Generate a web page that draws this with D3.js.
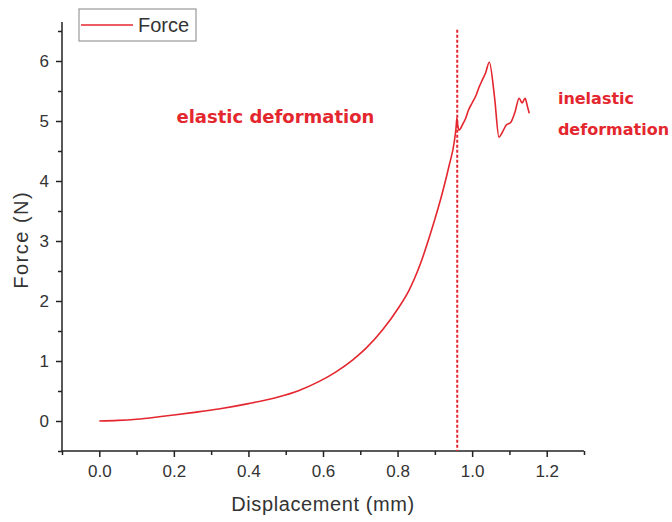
<!DOCTYPE html>
<html>
<head>
<meta charset="utf-8">
<script src="https://cdn.jsdelivr.net/npm/d3@7"></script>
<style>
  body { margin: 0; background: #fff; }
  .axis path, .axis line { stroke: #222; stroke-width: 1.5; }
  .axis text { font-family: "Liberation Sans", Arial, sans-serif; font-size: 17px; fill: #333; }
</style>
</head>
<body>
<div id="chart"></div>
<script>
// displacement (mm) and force (N)
var displacement = [0, 0.05, 0.1, 0.16, 0.2, 0.25, 0.32, 0.4, 0.48, 0.536, 0.59, 0.635, 0.68, 0.715, 0.76, 0.804, 0.83, 0.86, 0.893, 0.92, 0.938, 0.952, 0.957, 0.959, 0.962, 0.965, 0.975, 0.983, 0.99, 1.0, 1.01, 1.019, 1.027, 1.036, 1.046, 1.06, 1.072, 1.08, 1.091, 1.104, 1.115, 1.126, 1.134, 1.142, 1.148, 1.153];
var force = [0, 0.01, 0.03, 0.07, 0.1, 0.14, 0.2, 0.29, 0.4, 0.51, 0.66, 0.82, 1.02, 1.21, 1.52, 1.9, 2.17, 2.6, 3.22, 3.8, 4.25, 4.65, 4.9, 5.05, 4.9, 4.85, 4.95, 5.05, 5.18, 5.3, 5.42, 5.57, 5.68, 5.8, 5.98, 5.4, 4.73, 4.8, 4.93, 4.98, 5.15, 5.38, 5.3, 5.38, 5.25, 5.13];

var xTicks = [0, 0.2, 0.4, 0.6, 0.8, 1.0, 1.2];
var xMinor = [-0.1, 0.1, 0.3, 0.5, 0.7, 0.9, 1.1, 1.3];
var yTicks = [0, 1, 2, 3, 4, 5, 6];
var yMinor = [-0.5, 0.5, 1.5, 2.5, 3.5, 4.5, 5.5, 6.5];
var limit = 0.96;
var seriesName = "Force";

var red = "#e4262f";
var margin = ({top: 22, right: 88, bottom: 71, left: 62});
var width = 672 - margin.left - margin.right;
var height = 522 - margin.top - margin.bottom;

var svg = d3.select("#chart")
    .append("svg")
    .attr("width", 672)
    .attr("height", 522)
    .append("g")
    .attr("transform", "translate(" + margin.left + "," + margin.top + ")");

var xScale = d3.scaleLinear()
    .domain([-0.1, 1.3])
    .range([0, width]);

var yScale = d3.scaleLinear()
    .domain([-0.5, 6.65])
    .range([height, 0]);

// minor ticks first, then the labelled axes on top
svg.append("g")
    .attr("class", "axis")
    .attr("transform", "translate(0," + height + ")")
    .call(d3.axisBottom(xScale).tickValues(xMinor).tickSize(4).tickFormat(""))
    .select(".domain").remove();

svg.append("g")
    .attr("class", "axis")
    .call(d3.axisLeft(yScale).tickValues(yMinor).tickSize(4).tickFormat(""))
    .select(".domain").remove();

var xAxis = svg.append("g")
    .attr("class", "axis x-axis")
    .attr("transform", "translate(0," + height + ")")
    .call(d3.axisBottom(xScale).tickValues(xTicks).tickSize(6).tickSizeOuter(0).tickPadding(8).tickFormat(d3.format(".1f")));

var yAxis = svg.append("g")
    .attr("class", "axis y-axis")
    .call(d3.axisLeft(yScale).tickValues(yTicks).tickSize(6).tickSizeOuter(0).tickPadding(7).tickFormat(d3.format("d")));

xAxis.select(".domain").attr("d", "M0,0H" + width);
yAxis.select(".domain").attr("d", "M0,0V" + height);

svg.append("text")
    .attr("x", width / 2)
    .attr("y", height + 60)
    .attr("text-anchor", "middle")
    .style("font-family", "Liberation Sans, Arial, sans-serif")
    .style("font-size", "20px")
    .style("letter-spacing", "0.6px")
    .attr("fill", "#333")
    .text("Displacement (mm)");

svg.append("text")
    .attr("transform", "translate(-34," + yScale(3.02) + ") rotate(-90)")
    .attr("text-anchor", "middle")
    .style("font-family", "Liberation Sans, Arial, sans-serif")
    .style("font-size", "20px")
    .style("letter-spacing", "1.5px")
    .attr("fill", "#333")
    .text("Force (N)");

// dashed line at the end of the elastic part
svg.append("line")
    .attr("x1", xScale(limit))
    .attr("x2", xScale(limit))
    .attr("y1", yScale(6.52))
    .attr("y2", yScale(-0.5))
    .attr("stroke", red)
    .attr("stroke-width", 2)
    .attr("stroke-dasharray", "3,2");

var line = d3.line()
    .x(function(d, i) { return xScale(displacement[i]); })
    .y(function(d) { return yScale(d); })
    .curve(d3.curveMonotoneX);

svg.append("path")
    .datum(force)
    .attr("d", line)
    .attr("fill", "none")
    .attr("stroke", red)
    .attr("stroke-width", 1.6)
    .attr("stroke-linejoin", "round");

svg.append("text")
    .attr("x", xScale(0.207))
    .attr("y", yScale(4.96))
    .style("font-family", "DejaVu Sans, sans-serif")
    .style("font-weight", "bold")
    .style("font-size", "18px")
    .attr("fill", red)
    .text("elastic deformation");

var inel = svg.append("text")
    .style("font-family", "DejaVu Sans, sans-serif")
    .style("font-weight", "bold")
    .style("font-size", "16px")
    .attr("fill", red);
inel.append("tspan").attr("x", xScale(1.23)).attr("y", yScale(5.28)).text("inelastic");
inel.append("tspan").attr("x", xScale(1.23)).attr("y", yScale(4.76)).text("deformation");

// legend
var legend = svg.append("g")
    .attr("transform", "translate(" + (79 - margin.left) + "," + (9 - margin.top) + ")");

legend.append("rect")
    .attr("width", 117)
    .attr("height", 32)
    .attr("fill", "#fff")
    .attr("stroke", "#999")
    .attr("stroke-width", 1.2);

legend.append("line")
    .attr("x1", 2)
    .attr("x2", 54)
    .attr("y1", 16)
    .attr("y2", 16)
    .attr("stroke", red)
    .attr("stroke-width", 1.6);

legend.append("text")
    .attr("x", 59)
    .attr("y", 23)
    .style("font-family", "Liberation Sans, Arial, sans-serif")
    .style("font-size", "20px")
    .attr("fill", "#333")
    .text(seriesName);
</script>
</body>
</html>
